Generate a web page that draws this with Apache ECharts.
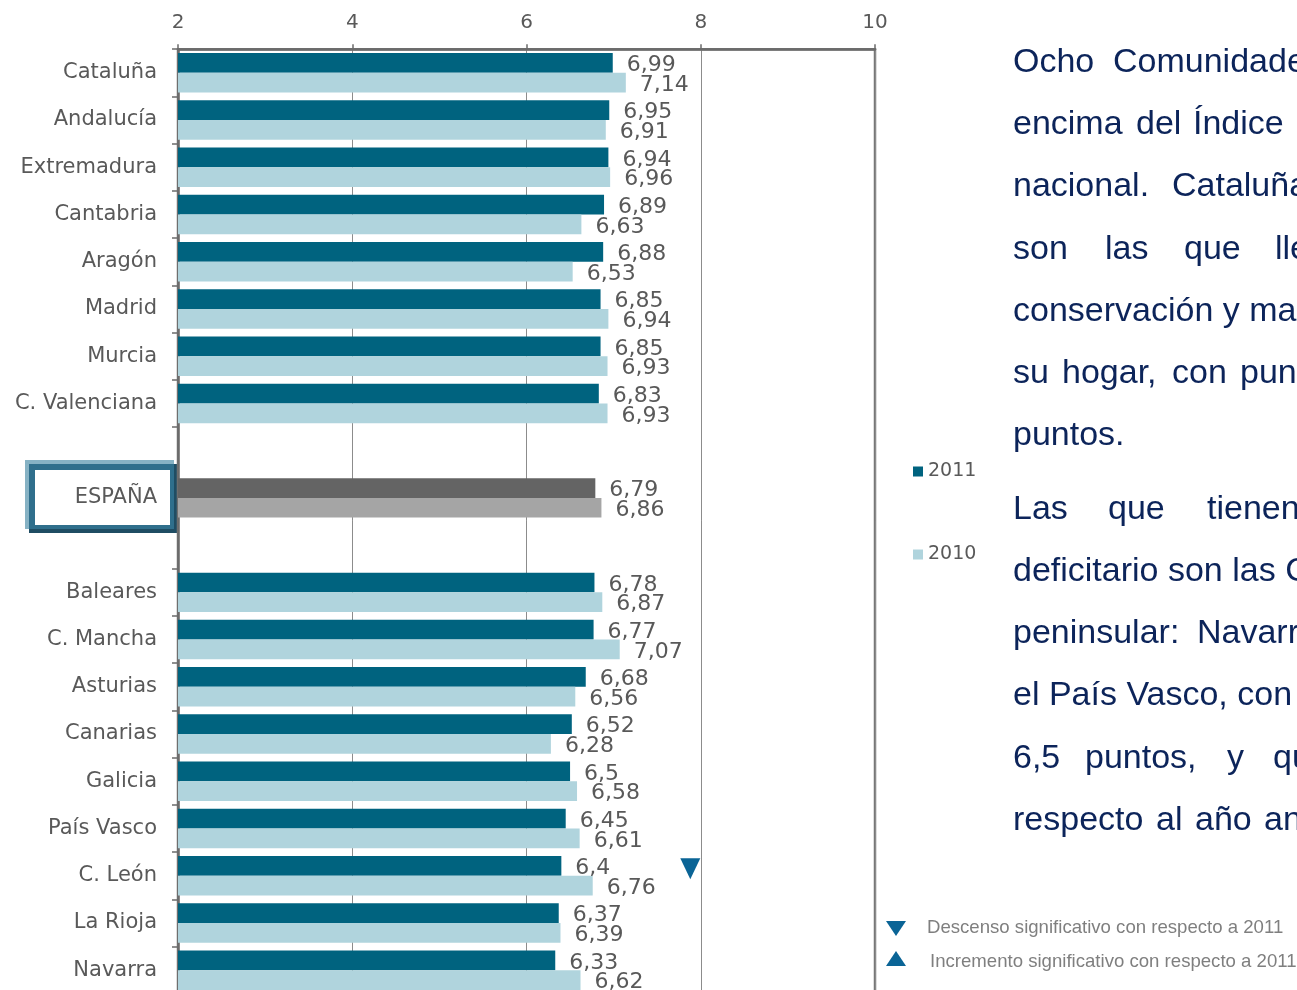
<!DOCTYPE html>
<html>
<head>
<meta charset="utf-8">
<script src="https://cdn.jsdelivr.net/npm/echarts@6/dist/echarts.min.js"></script>
<style>
  html, body { margin: 0; padding: 0; background: #fff; }
  #chart { width: 1297px; height: 990px; }
</style>
</head>
<body>
<div id="chart"></div>
<script>
// Datos (índice por comunidad, 2011 y 2010)
const categories = [
  'Cataluña', 'Andalucía', 'Extremadura', 'Cantabria', 'Aragón', 'Madrid', 'Murcia', 'C. Valenciana',
  ' ', 'ESPAÑA', '  ',
  'Baleares', 'C. Mancha', 'Asturias', 'Canarias', 'Galicia', 'País Vasco', 'C. León', 'La Rioja', 'Navarra'
]
const values2011 = [6.99, 6.95, 6.94, 6.89, 6.88, 6.85, 6.85, 6.83, '-', 6.79, '-', 6.78, 6.77, 6.68, 6.52, 6.5, 6.45, 6.4, 6.37, 6.33]
const values2010 = [7.14, 6.91, 6.96, 6.63, 6.53, 6.94, 6.93, 6.93, '-', 6.86, '-', 6.87, 7.07, 6.56, 6.28, 6.58, 6.61, 6.76, 6.39, 6.62]
// cambio significativo respecto a 2011 ('down' / 'up')
const significance = ['', '', '', '', '', '', '', '', '', '', '', '', '', '', '', '', '', 'down', '', '']
const xTicks = [2, 4, 6, 8, 10]

const espIdx = categories.indexOf('ESPAÑA')
const markerX = 7.88

// Texto a la derecha (líneas justificadas, cortadas por el borde)
const paragraph = [
  [['Ocho', 1013], ['Comunidades', 1113]],
  [['encima', 1013], ['del', 1136], ['Índice', 1193]],
  [['nacional.', 1013], ['Cataluña', 1172]],
  [['son', 1013], ['las', 1105], ['que', 1184], ['llevan', 1275]],
  [['conservación y mantenimiento', 1013]],
  [['su', 1013], ['hogar,', 1062], ['con', 1172], ['puntuaciones', 1240]],
  [['puntos.', 1013]],
  [['Las', 1013], ['que', 1108], ['tienen', 1207]],
  [['deficitario son las Comunidades', 1013]],
  [['peninsular:', 1013], ['Navarra', 1197]],
  [['el País Vasco, con', 1013]],
  [['6,5', 1013], ['puntos,', 1085], ['y', 1227], ['que', 1273]],
  [['respecto', 1013], ['al', 1156], ['año', 1195], ['anterior', 1264]]
]
const lineY = [63, 125, 187, 249.5, 312, 374, 436, 509.5, 571.5, 633.5, 696, 758.5, 820.5]

const fmt = p => String(p.value).replace('.', ',')

const labelStyle = {
  show: true,
  position: 'right',
  distance: 14,
  offset: [0, 2.5],
  fontSize: 22,
  fontFamily: 'DejaVu Sans',
  color: '#595959',
  formatter: fmt
}

const textEls = []
paragraph.forEach((words, i) => {
  words.forEach(([w, x]) => {
    textEls.push({
      type: 'text',
      x: x,
      y: lineY[i],
      silent: true,
      style: {
        text: w,
        font: '34px "Liberation Sans", Arial, sans-serif',
        fill: '#0c245a',
        verticalAlign: 'middle'
      }
    })
  })
})

const chart = echarts.init(document.getElementById('chart'))

const option = {
  animation: false,
  backgroundColor: '#fff',
  grid: {
    left: 178,
    top: 49.2,
    width: 697,
    height: 944.6,
    outerBoundsMode: 'none',
    containLabel: false,
    show: true,
    borderColor: '#777',
    borderWidth: 2.5,
    backgroundColor: 'transparent'
  },
  legend: {
    data: ['2011', '2010'],
    orient: 'vertical',
    left: 913,
    top: 462,
    padding: 0,
    itemWidth: 10,
    itemHeight: 10,
    itemGap: 64,
    icon: 'rect',
    selectedMode: false,
    textStyle: { fontSize: 19, fontFamily: 'DejaVu Sans', color: '#595959' }
  },
  xAxis: {
    type: 'value',
    position: 'top',
    min: xTicks[0],
    max: xTicks[xTicks.length - 1],
    interval: xTicks[1] - xTicks[0],
    axisLine: { show: true, lineStyle: { color: '#6b6b6b', width: 2.5 } },
    axisTick: { show: true, length: 5, lineStyle: { color: '#6b6b6b', width: 1.5 } },
    axisLabel: { fontSize: 20, fontFamily: 'DejaVu Sans', color: '#595959', margin: 16 },
    splitLine: { show: true, lineStyle: { color: '#8c8c8c', width: 1 } }
  },
  yAxis: {
    type: 'category',
    inverse: true,
    data: categories,
    axisLine: { show: true, lineStyle: { color: '#6b6b6b', width: 2.5 } },
    axisTick: {
      show: true,
      length: 6,
      lineStyle: { color: '#6b6b6b', width: 1.5 },
      interval: (idx) => idx !== espIdx && idx !== espIdx + 1
    },
    axisLabel: {
      fontSize: 21,
      fontFamily: 'DejaVu Sans',
      color: '#595959',
      margin: 21,
      interval: 0,
      padding: [6, 0, 0, 0]
    }
  },
  series: [
    {
      name: '2011',
      type: 'bar',
      color: '#00637f',
      barGap: '0%',
      barCategoryGap: '16.5%',
      data: values2011.map((v, i) => i === espIdx ? { value: v, itemStyle: { color: '#646464' } } : v),
      label: labelStyle
    },
    {
      name: '2010',
      type: 'bar',
      color: '#b0d4dd',
      barGap: '0%',
      barCategoryGap: '16.5%',
      data: values2010.map((v, i) => i === espIdx ? { value: v, itemStyle: { color: '#a5a5a5' } } : v),
      label: labelStyle
    },
    {
      name: 'signif',
      type: 'scatter',
      silent: true,
      z: 5,
      itemStyle: { color: '#0a6496', opacity: 1 },
      symbol: 'triangle',
      symbolSize: [20, 21],
      data: significance
        .map((s, i) => s ? { value: [markerX, i], symbolRotate: s === 'down' ? 180 : 0, symbolOffset: [0, -7] } : null)
        .filter(d => d)
    }
  ],
  graphic: [
    // recuadro ESPAÑA
    { type: 'rect', z: -1, silent: true, shape: { x: 29, y: 464, width: 149.3, height: 69 }, style: { fill: '#1f4d63' } },
    { type: 'rect', z: -1, silent: true, shape: { x: 25, y: 460, width: 149, height: 69 }, style: { fill: '#86b2c4' } },
    { type: 'rect', z: -1, silent: true, shape: { x: 29, y: 464, width: 145, height: 65 }, style: { fill: '#2f6f8c' } },
    { type: 'rect', z: -1, silent: true, shape: { x: 35, y: 470, width: 135, height: 55 }, style: { fill: '#fff' } },
    // leyenda de significación
    { type: 'polygon', silent: true, shape: { points: [[886, 921], [906, 921], [896, 936]] }, style: { fill: '#0a6496' } },
    { type: 'polygon', silent: true, shape: { points: [[886, 966], [906, 966], [896, 951]] }, style: { fill: '#0a6496' } },
    {
      type: 'text', x: 927, y: 928, silent: true,
      style: { text: 'Descenso significativo con respecto a 2011', font: '18.6px "Liberation Sans", Arial, sans-serif', fill: '#7f7f7f', verticalAlign: 'middle' }
    },
    {
      type: 'text', x: 930, y: 962, silent: true,
      style: { text: 'Incremento significativo con respecto a 2011', font: '18.6px "Liberation Sans", Arial, sans-serif', fill: '#7f7f7f', verticalAlign: 'middle' }
    },
    ...textEls
  ]
}

chart.setOption(option)
</script>
</body>
</html>
